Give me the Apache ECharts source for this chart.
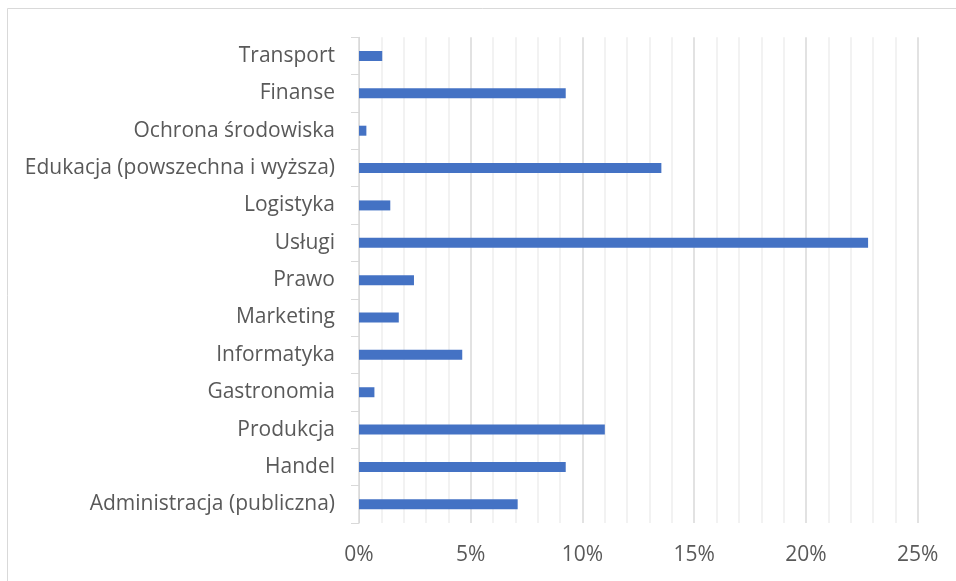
<!DOCTYPE html>
<html>
<head>
<meta charset="utf-8">
<script src="https://cdn.jsdelivr.net/npm/echarts@6/dist/echarts.min.js"></script>
<style>
html,body{margin:0;padding:0;background:#fff;}
#c{width:956px;height:581px;}
</style>
</head>
<body>
<div id="c"></div>
<script>
const categories = ['Administracja (publiczna)','Handel','Produkcja','Gastronomia','Informatyka','Marketing','Prawo','Usługi','Logistyka','Edukacja (powszechna i wyższa)','Ochrona środowiska','Finanse','Transport'];
const values = [7.1, 9.25, 11.0, 0.69, 4.62, 1.78, 2.46, 22.78, 1.40, 13.53, 0.33, 9.25, 1.04];
const xTicks = [0, 5, 10, 15, 20, 25];

const chart = echarts.init(document.getElementById('c'), null, {renderer:'canvas'});
const font = "'Open Sans', sans-serif";
chart.setOption({
  animation:false,
  backgroundColor:'#fff',
  graphic:[{type:'rect', shape:{x:7.5,y:8.5,width:1000,height:1000}, style:{fill:'none',stroke:'#d9d9d9',lineWidth:1}, silent:true, z:-1}],
  grid:{left:359, right:38.3, top:37.3, bottom:58},
  xAxis:{
    type:'value', min:xTicks[0], max:xTicks[xTicks.length-1], interval:5,
    axisLine:{show:false}, axisTick:{show:false},
    axisLabel:{formatter:v=>v+'%', color:'#595959', fontFamily:font, fontSize:21, margin:22},
    splitLine:{show:true, lineStyle:{color:'#d9d9d9', width:1.5}},
    minorTick:{show:false, splitNumber:5},
    minorSplitLine:{show:true, lineStyle:{color:'#eeeeee', width:1.5}}
  },
  yAxis:{
    type:'category', data:categories,
    axisLine:{show:true, lineStyle:{color:'#d9d9d9', width:1}},
    axisTick:{show:true, length:8, lineStyle:{color:'#d9d9d9'}},
    axisLabel:{color:'#595959', fontFamily:font, fontSize:21, margin:24}
  },
  series:[{type:'bar', data:values, barWidth:10, itemStyle:{color:'#4472C4'}}]
});
</script>
</body>
</html>
